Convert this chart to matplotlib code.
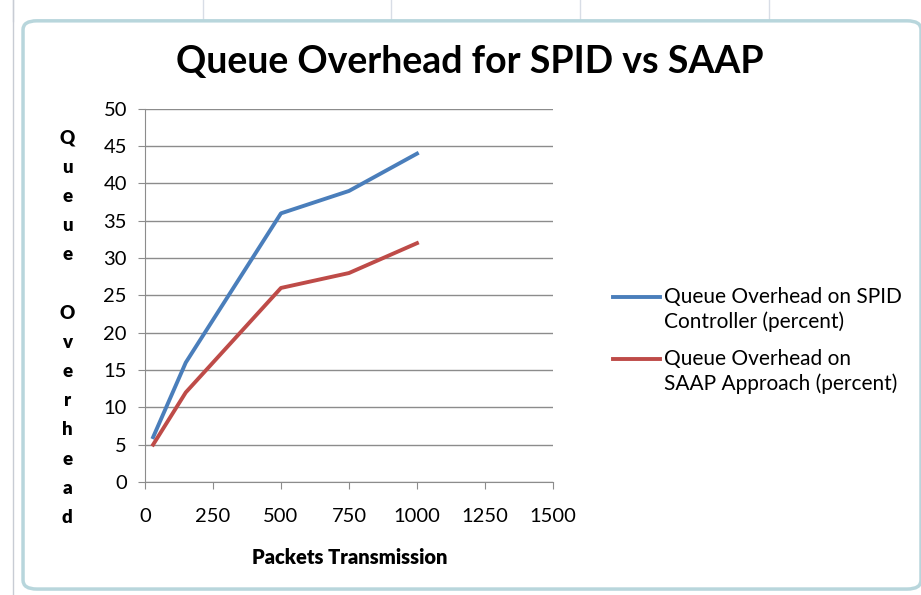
import matplotlib.pyplot as plt
from matplotlib.patches import FancyBboxPatch

plt.rcParams['font.family'] = ['Lato', 'DejaVu Sans']

packets = [30, 150, 500, 750, 1000]
spid = [6, 16, 36, 39, 44]
saap = [5, 12, 26, 28, 32]
spid_label = 'Queue Overhead on SPID\nController (percent)'
saap_label = 'Queue Overhead on\nSAAP Approach (percent)'
xticks = [0, 250, 500, 750, 1000, 1250, 1500]
yticks = [0, 5, 10, 15, 20, 25, 30, 35, 40, 45, 50]

fig = plt.figure(figsize=(9.21, 5.95), dpi=100)

# excel-ish frame around the chart
frame = FancyBboxPatch((0.025, 0.01), 0.975, 0.955, boxstyle='round,pad=0,rounding_size=0.015',
                       transform=fig.transFigure, facecolor='white', edgecolor='#b8d6dc', lw=2.5,
                       zorder=-5)
fig.patches.append(frame)
for xx in [0.014, 0.22, 0.425, 0.63, 0.835]:
    fig.add_artist(plt.Line2D([xx, xx], [0.965, 1.0], color='#d8dde6', lw=1, zorder=-6))
fig.add_artist(plt.Line2D([0.014, 0.014], [0.0, 1.0], color='#c8ccd4', lw=1, zorder=-6))

ax = fig.add_axes([0.1574, 0.190, 0.443, 0.627])
ax.patch.set_alpha(0)
l1, = ax.plot(packets, spid, color='#4a7ebb', lw=2.8)
l2, = ax.plot(packets, saap, color='#be4b48', lw=2.8)

ax.set_xlim(0, 1500)
ax.set_ylim(0, 50)
ax.set_xticks(xticks)
ax.set_yticks(yticks)
ax.grid(axis='y', color='#8c8c8c', lw=1)
ax.set_axisbelow(True)
for s in ['top', 'right']:
    ax.spines[s].set_visible(False)
for s in ['left', 'bottom']:
    ax.spines[s].set_color('#8c8c8c')
ax.tick_params(colors='#8c8c8c', labelcolor='black', labelsize=14.5, length=5, direction='out')
ax.tick_params(axis='y', pad=8)
ax.tick_params(axis='x', pad=14)

fig.text(0.51, 0.895, 'Queue Overhead for SPID vs SAAP', ha='center', va='center',
         fontsize=27, fontweight='bold')
fig.text(0.38, 0.063, 'Packets Transmission', ha='center', va='center',
         fontsize=14.5, fontweight='heavy')
fig.text(0.073, 0.449, '\n'.join('Queue Overhead'), ha='center', va='center',
         fontsize=13.5, fontweight='heavy', linespacing=1.87)

# legend like excel: handle lines up with the first text line
for line, label, ly in [(l1, spid_label, 297), (l2, saap_label, 359)]:
    y = 1 - ly / 595
    fig.add_artist(plt.Line2D([0.666, 0.717], [y, y], color=line.get_color(), lw=2.8))
    fig.text(0.721, 1 - (ly - 10) / 595, label, ha='left', va='top', fontsize=15,
             linespacing=1.27)

fig.savefig('out.png', dpi=100)
